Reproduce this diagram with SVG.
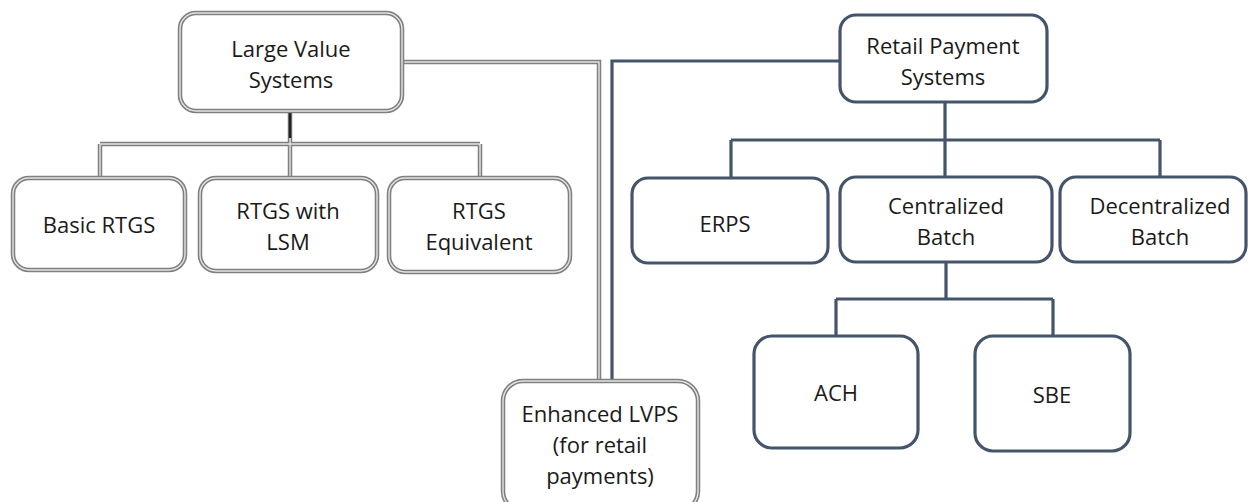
<svg xmlns="http://www.w3.org/2000/svg" width="1248" height="502" viewBox="0 0 1248 502">
<style>
.dbl{fill:none;stroke:#7f7f7f;stroke-width:4.5}
.dbli{fill:none;stroke:#e4e4e4;stroke-width:1.4}
.box{fill:#fff}
.sol{fill:none;stroke:#44546a;stroke-width:3.2}
.bs{fill:#fff;stroke:#44546a;stroke-width:3.2}
text{font-family:"Open Sans","Liberation Sans",sans-serif;font-size:22px;fill:#1a1a1a;text-anchor:middle}
</style>
<defs>
<path id="lvc" d="M402,62 H599 V381"/>
<path id="lvt" d="M290,112 V144 M100,144 H480 M100,144 V178 M290,144 V178 M480,144 V178"/>
</defs>
<g id="connectors">
<use href="#lvc" class="dbl"/>
<use href="#lvc" class="dbli"/>
<use href="#lvt" class="dbl"/>
<use href="#lvt" class="dbli"/>
<path d="M290,112 V138" stroke="#222" stroke-width="2.5" fill="none"/>
<path class="sol" d="M840,61 H612 V381"/>
<path class="sol" d="M945,102 V140 M731,140 H1160 M731,140 V178 M945,140 V178 M1160,140 V178"/>
<path class="sol" d="M946,262 V299 M836,299 H1053 M836,299 V336 M1053,299 V336"/>
</g>
<g id="lvs">
<rect class="box dbl" x="180" y="13" width="222" height="98" rx="16"/>
<rect class="dbli" x="180" y="13" width="222" height="98" rx="16"/>
<text x="291" y="57">Large Value</text>
<text x="291" y="88">Systems</text>
</g>
<g id="basic">
<rect class="box dbl" x="13" y="178" width="172" height="92" rx="16"/>
<rect class="dbli" x="13" y="178" width="172" height="92" rx="16"/>
<text x="99" y="233">Basic RTGS</text>
</g>
<g id="lsm">
<rect class="box dbl" x="200" y="178" width="177" height="93" rx="16"/>
<rect class="dbli" x="200" y="178" width="177" height="93" rx="16"/>
<text x="288" y="219">RTGS with</text>
<text x="288" y="250">LSM</text>
</g>
<g id="equiv">
<rect class="box dbl" x="389" y="178" width="181" height="94" rx="16"/>
<rect class="dbli" x="389" y="178" width="181" height="94" rx="16"/>
<text x="479" y="219">RTGS</text>
<text x="479" y="250">Equivalent</text>
</g>
<g id="enhanced">
<rect class="box dbl" x="503" y="381" width="195" height="130" rx="20"/>
<rect class="dbli" x="503" y="381" width="195" height="130" rx="20"/>
<text x="600" y="422">Enhanced LVPS</text>
<text x="600" y="453">(for retail</text>
<text x="600" y="484">payments)</text>
</g>
<g id="rps">
<rect class="bs" x="840" y="15" width="207" height="87" rx="16"/>
<text x="943" y="54">Retail Payment</text>
<text x="943" y="85">Systems</text>
</g>
<g id="erps">
<rect class="bs" x="632" y="178" width="196" height="85" rx="16"/>
<text x="725" y="232">ERPS</text>
</g>
<g id="central">
<rect class="bs" x="840" y="177" width="212" height="85" rx="16"/>
<text x="946" y="214">Centralized</text>
<text x="946" y="245">Batch</text>
</g>
<g id="decentral">
<rect class="bs" x="1060" y="177" width="186" height="85" rx="16"/>
<text x="1160" y="214">Decentralized</text>
<text x="1160" y="245">Batch</text>
</g>
<g id="ach">
<rect class="bs" x="754" y="336" width="164" height="112" rx="18"/>
<text x="836" y="401">ACH</text>
</g>
<g id="sbe">
<rect class="bs" x="975" y="336" width="155" height="115" rx="18"/>
<text x="1052" y="403">SBE</text>
</g>
</svg>
